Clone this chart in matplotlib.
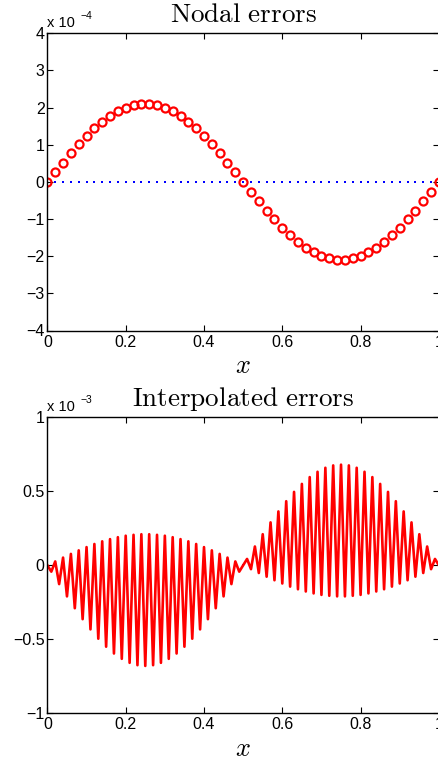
import numpy as np
import matplotlib
matplotlib.use("Agg")
import matplotlib.pyplot as plt

# ---------------- data ----------------
x_nodes = np.linspace(0, 1, 51)
# nodal errors (units of 1e-4), read at x = 0, 0.02, ..., 1
nodal_err = [0.00, 0.26, 0.52, 0.77, 1.01, 1.23, 1.44, 1.62, 1.77, 1.90,
             2.00, 2.06, 2.10, 2.10, 2.06, 2.00, 1.90, 1.77, 1.62, 1.44,
             1.23, 1.01, 0.77, 0.52, 0.26, 0.00, -0.26, -0.52, -0.77, -1.01,
             -1.23, -1.44, -1.62, -1.77, -1.90, -2.00, -2.06, -2.10, -2.10, -2.06,
             -2.00, -1.90, -1.77, -1.62, -1.44, -1.23, -1.01, -0.77, -0.52, -0.26,
             0.00]
# interpolated errors between nodes (units of 1e-3), read at x = 0.01, 0.03, ..., 0.99
x_mid = np.linspace(0.01, 0.99, 50)
mid_err = [-0.043, -0.127, -0.210, -0.290, -0.364, -0.433, -0.496, -0.550, -0.596, -0.632,
           -0.659, -0.675, -0.680, -0.675, -0.659, -0.632, -0.596, -0.550, -0.496, -0.433,
           -0.364, -0.290, -0.210, -0.127, -0.043, 0.043, 0.127, 0.210, 0.290, 0.364,
           0.433, 0.496, 0.550, 0.596, 0.632, 0.659, 0.675, 0.680, 0.675, 0.659,
           0.632, 0.596, 0.550, 0.496, 0.433, 0.364, 0.290, 0.210, 0.127, 0.043]

xticks = [0, 0.2, 0.4, 0.6, 0.8, 1]
xticklabels = ['0', '0.2', '0.4', '0.6', '0.8', '1']
yticks_top = [-4, -3, -2, -1, 0, 1, 2, 3, 4]
yticklabels_top = ['\u22124', '\u22123', '\u22122', '\u22121', '0', '1', '2', '3', '4']
yticks_bot = [-1, -0.5, 0, 0.5, 1]
yticklabels_bot = ['\u22121', '\u22120.5', '0', '0.5', '1']

# build interleaved interpolated-error curve (nodes + midpoints)
x_int = np.empty(101)
y_int = np.empty(101)
x_int[0::2] = x_nodes
x_int[1::2] = x_mid
y_int[0::2] = np.array(nodal_err) * 1e-1   # 1e-4 -> 1e-3 units
y_int[1::2] = mid_err

# ---------------- figure ----------------
plt.rcParams['font.family'] = ['Liberation Sans', 'DejaVu Sans']
W, H = 439, 763
fig = plt.figure(figsize=(W / 100, H / 100), dpi=100)

left = 47.4 / W
width = 391.5 / W
ax1 = fig.add_axes([left, 1 - 330.5 / H, width, (330.5 - 33.3) / H])
ax2 = fig.add_axes([left, 1 - 713.3 / H, width, (713.3 - 417.3) / H])

def style(ax, yt, ytl, ylim, expo, title):
    ax.set_xlim(0, 1)
    ax.set_ylim(*ylim)
    ax.set_xticks(xticks)
    ax.set_xticklabels(xticklabels)
    ax.set_yticks(yt)
    ax.set_yticklabels(ytl)
    ax.tick_params(direction='in', length=4, width=0.8, labelsize=11.5,
                   top=True, right=True, pad=3, colors='black')
    ax.tick_params(axis='y', pad=2)
    for s in ax.spines.values():
        s.set_linewidth(1.0)
    ax.set_xlabel(r'$x$', fontsize=19, math_fontfamily='cm', labelpad=3)
    ax.set_title(r'$\mathrm{' + title.replace(' ', r'\ ') + '}$', fontsize=19.5,
                 math_fontfamily='cm', pad=8)
    ax.annotate('x 10', xy=(0, 1), xycoords='axes fraction', xytext=(0, 2.5),
                textcoords='offset points', fontsize=10.5, ha='left', va='bottom')
    ax.annotate(expo, xy=(0, 1), xycoords='axes fraction', xytext=(24, 9),
                textcoords='offset points', fontsize=7.5, ha='left', va='bottom')

# top: nodal errors
ax1.plot(x_nodes, np.zeros_like(x_nodes), linestyle='none', marker='s',
         markersize=1.7, color=(0, 0, 1), markeredgewidth=0)
ax1.plot(x_nodes, nodal_err, linestyle='none', marker='o', markersize=5.8,
         markerfacecolor='none', markeredgecolor=(1, 0, 0), markeredgewidth=1.6)
style(ax1, yticks_top, yticklabels_top, (-4, 4), '\u22124', 'Nodal errors')

# bottom: interpolated errors
ax2.plot(x_nodes, np.zeros_like(x_nodes), linestyle='none', marker='s',
         markersize=1.7, color=(0, 0, 1), markeredgewidth=0)
ax2.plot(x_int, y_int, color=(1, 0, 0), linewidth=1.9)
style(ax2, yticks_bot, yticklabels_bot, (-1, 1), '\u22123', 'Interpolated errors')

fig.savefig('out.png', dpi=100)
